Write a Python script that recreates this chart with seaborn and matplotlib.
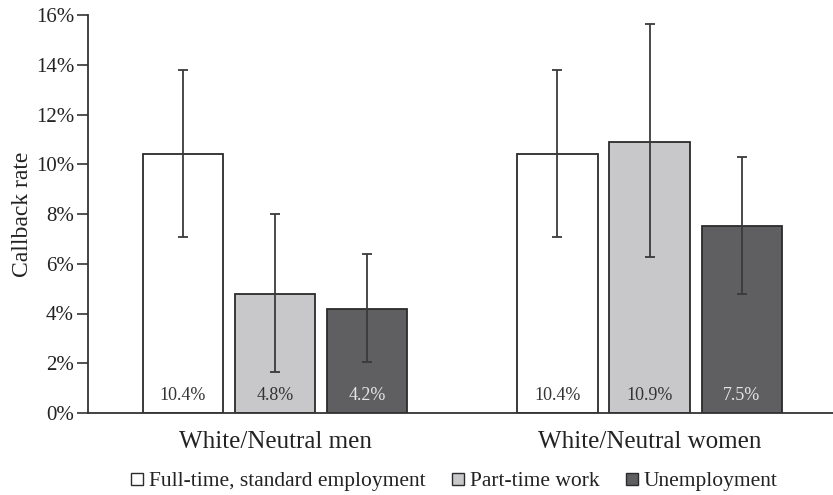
import numpy as np
import pandas as pd
import matplotlib
matplotlib.use("Agg")
import matplotlib.pyplot as plt
from matplotlib.lines import Line2D
import seaborn as sns

groups = ["White/Neutral men", "White/Neutral women"]
conditions = ["Full-time, standard employment", "Part-time work", "Unemployment"]
rates = {
    "Full-time, standard employment": [10.4, 10.4],
    "Part-time work": [4.8, 10.9],
    "Unemployment": [4.2, 7.5],
}
ci_low = {
    "Full-time, standard employment": [7.08, 7.08],
    "Part-time work": [1.65, 6.27],
    "Unemployment": [2.05, 4.78],
}
ci_high = {
    "Full-time, standard employment": [13.79, 13.79],
    "Part-time work": [8.0, 15.64],
    "Unemployment": [6.39, 10.29],
}
yticks = [0, 2, 4, 6, 8, 10, 12, 14, 16]

fills = ["#ffffff", "#c8c8ca", "#5f5f61"]
label_colors = ["#333333", "#333333", "#e6e6e6"]
ink = "#2b2b2b"

rows = []
for c in conditions:
    for g, v in zip(groups, rates[c]):
        rows.append({"group": g, "condition": c, "rate": v})
df = pd.DataFrame(rows)

sns.set_style("white")
plt.rcParams["font.family"] = ["Liberation Serif", "DejaVu Serif"]

fig = plt.figure(figsize=(8.33, 4.95), dpi=100)
ax = fig.add_axes([88 / 833, 82 / 495, (833 - 88) / 833, 398 / 495])

sns.barplot(data=df, x="group", y="rate", hue="condition", order=groups,
            hue_order=conditions, palette=fills, width=0.738, gap=0.13,
            edgecolor=ink, linewidth=1.3, errorbar=None, legend=False, ax=ax)

for ci, (c, cont) in enumerate(zip(conditions, ax.containers)):
    for gi, bar in enumerate(cont):
        xc = bar.get_x() + bar.get_width() / 2
        v = rates[c][gi]
        lo, hi = ci_low[c][gi], ci_high[c][gi]
        ax.errorbar(xc, v, yerr=[[v - lo], [hi - v]], fmt="none",
                    ecolor="#3a3a3a", elinewidth=1.3, capsize=3.5,
                    capthick=1.3, zorder=5)
        ax.text(xc, 0.72, f"{v:.1f}%", ha="center", va="center",
                fontsize=13, color=label_colors[ci], zorder=6)

ax.set_ylim(0, 16)
ax.set_yticks(yticks)
ax.set_yticklabels([f"{t}%" for t in yticks])
ax.set_xlim(-0.5, 1.49)
ax.set_xticks([0, 1])
ax.set_xticklabels(groups)
ax.set_xticks([-0.5, 0.5], minor=True)
ax.tick_params(axis="x", which="major", length=0, pad=13, labelsize=18,
               labelcolor="#222222")
ax.tick_params(axis="x", which="minor", length=9, width=1.2, color="#555555",
               direction="out")
ax.tick_params(axis="y", length=8, width=1.2, color="#333333", direction="out",
               labelsize=15, labelcolor="#222222", pad=2, left=True)
ax.set_xlabel("")
ax.set_ylabel("Callback rate", fontsize=17, color="#222222", labelpad=2)

sns.despine(ax=ax)
for s in ["left", "bottom"]:
    ax.spines[s].set_color("#333333")
    ax.spines[s].set_linewidth(1.3)

handles = [Line2D([0], [0], marker="s", linestyle="none", markersize=9,
                  markerfacecolor=f, markeredgecolor=ink, markeredgewidth=1.0)
           for f in fills]
fig.legend(handles, conditions, loc="center", bbox_to_anchor=(452 / 833, 1 - 481 / 495),
           ncol=3, frameon=False, fontsize=15.5, handletextpad=0.05,
           columnspacing=1.0, handlelength=1.0, borderpad=0.1,
           labelcolor="#222222")

fig.savefig("out.png", dpi=100)
